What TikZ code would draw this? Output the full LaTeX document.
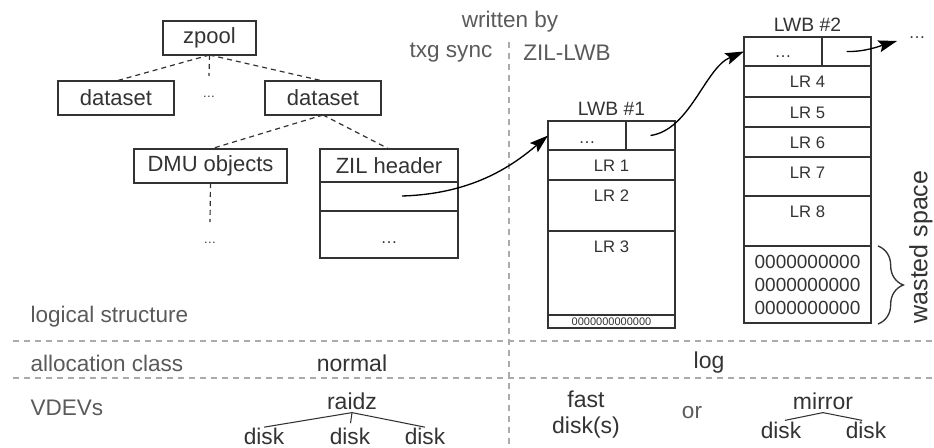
\documentclass[tikz,border=0pt]{standalone}
\usepackage{fontspec}
\setmainfont{Liberation Sans}
\usetikzlibrary{positioning,arrows.meta,decorations.pathreplacing}

\definecolor{ink}{HTML}{333333}
\definecolor{notegray}{HTML}{5A5A5A}
\definecolor{sepgray}{HTML}{ABABAB}

\tikzset{every picture/.style={line width=0.75pt}}
\tikzset{
  box/.style={draw=ink, line width=1.1pt, text=ink, inner sep=0pt, outer sep=0pt, minimum height=25.5pt, font=\fontsize{16.5}{19}\selectfont},
  cell/.style={draw=ink, line width=1.1pt, text=ink, inner sep=0pt, outer sep=0pt, minimum width=95.25pt},
  lrtxt/.style={text=ink, inner sep=0pt, font=\fontsize{12.5}{14}\selectfont},
  lwbname/.style={text=ink, inner sep=0pt, font=\fontsize{14.5}{16}\selectfont},
  ell/.style={text=ink, inner sep=0pt},
  notetxt/.style={text=notegray, inner sep=0pt, font=\fontsize{16.9}{20}\selectfont},
  vdev/.style={text=ink, inner sep=2pt, font=\fontsize{17.25}{19.5}\selectfont},
  disk/.style={text=ink, inner sep=0pt, font=\fontsize{17}{19}\selectfont},
  branch/.style={draw=ink, line width=0.9pt, dash pattern=on 3.75pt off 3pt},
  divider/.style={draw=sepgray, line width=1.1pt, dash pattern=on 4.5pt off 3.75pt},
  link/.style={draw=black, line width=1pt, -{Stealth[length=14pt,width=9pt,inset=2.5pt]}},
}

\begin{document}
\begin{tikzpicture}[x=0.75pt,y=0.75pt,yscale=-1]
	\useasboundingbox (0,0) rectangle (934,448);

	% Dividers
	\coordinate (vtop) at (509,42);
	\coordinate (vbot) at (509,448);
	\coordinate (h1l) at (13,341);
	\coordinate (h1r) at (934,341);
	\coordinate (h2l) at (13,378);
	\coordinate (h2r) at (934,378);
	\draw[divider] (vtop) -- (vbot);
	\draw[divider] (h1l) -- (h1r);
	\draw[divider] (h2l) -- (h2r);

	% Headings
	\node[notetxt] (wby) at (510,22) {written by};
	\node[notetxt] (txg) at (451,53) {txg sync};
	\node[notetxt] (zlwb) at (567,53) {ZIL-LWB};

	% Object tree
	\node[box, minimum width=69.75pt] (zpool) at (209.5,38) {zpool};
	\node[box, minimum width=87pt] (dsa) at (116,98) {dataset};
	\node[ell, font=\fontsize{9.5}{10}\selectfont] (dsdots) at (209,97) {…};
	\node[box, minimum width=87pt] (dsb) at (323,98) {dataset};
	\node[box, minimum width=114.75pt] (dmu) at (210.5,166) {DMU objects};
	\node[ell, font=\fontsize{9.5}{10}\selectfont] (dmudots) at (210,243) {…};
	\node[box, minimum width=103.5pt, minimum height=24.75pt] (zilhdr) at (389,165.5) {ZIL header};
	\node[box, minimum width=103.5pt, minimum height=21.75pt, below=0pt of zilhdr] (zilptr) {};
	\node[box, minimum width=103.5pt, minimum height=35.25pt, below=0pt of zilptr] (zilrest) {};
	\node[ell, font=\fontsize{12.75}{14}\selectfont] (zildots) at ([yshift=6pt]zilrest.center) {…};

	\coordinate (zpdown) at (209,76);
	\coordinate (dmudown) at (210,222);
	\draw[branch] (zpool.south) -- (dsa.north);
	\draw[branch] (zpool.south) -- (zpdown);
	\draw[branch] (zpool.south) -- (dsb.north);
	\draw[branch] (dsb.south) -- (dmu.north);
	\draw[branch] (dsb.south) -- (zilhdr.north);
	\draw[branch] (dmu.south) -- (dmudown);

	% LWB #1
	\node[lwbname] (name1) at (611.5,109) {LWB \#1};
	\node[cell, minimum width=58.5pt, minimum height=21.75pt, anchor=north west] (hl1) at (548,121) {};
	\node[cell, minimum width=36.75pt, minimum height=21.75pt, right=0pt of hl1] (hr1) {};
	\node[ell, font=\fontsize{12.75}{14}\selectfont] (hd1) at ([yshift=5pt]hl1.center) {…};
	\node[cell, minimum height=22.5pt, anchor=north west] (lr1) at (hl1.south west) {};
	\node[cell, minimum height=38.25pt, below=0pt of lr1] (lr2) {};
	\node[cell, minimum height=63pt, below=0pt of lr2] (lr3) {};
	\node[cell, minimum height=9.75pt, below=0pt of lr3, font=\fontsize{8.25}{9}\selectfont] (zero1) {0000000000000};
	\node[lrtxt] (t1) at ([yshift=12pt]lr1.north) {LR 1};
	\node[lrtxt] (t2) at ([yshift=12pt]lr2.north) {LR 2};
	\node[lrtxt] (t3) at ([yshift=12pt]lr3.north) {LR 3};

	% LWB #2
	\node[lwbname] (name2) at (807.5,25) {LWB \#2};
	\node[cell, minimum width=58.5pt, minimum height=21.75pt, anchor=north west] (hl2) at (744,37) {};
	\node[cell, minimum width=36.75pt, minimum height=21.75pt, right=0pt of hl2] (hr2) {};
	\node[ell, font=\fontsize{12.75}{14}\selectfont] (hd2) at ([yshift=4pt]hl2.center) {…};
	\node[cell, minimum height=23.25pt, anchor=north west] (lr4) at (hl2.south west) {};
	\node[cell, minimum height=22.5pt, below=0pt of lr4] (lr5) {};
	\node[cell, minimum height=22.5pt, below=0pt of lr5] (lr6) {};
	\node[cell, minimum height=29.25pt, below=0pt of lr6] (lr7) {};
	\node[cell, minimum height=37.5pt, below=0pt of lr7] (lr8) {};
	\node[cell, minimum height=57.75pt, below=0pt of lr8, align=center, font=\fontsize{14.25}{17.25}\selectfont] (zero2) {0000000000\\0000000000\\0000000000};
	\node[lrtxt] (t4) at ([yshift=12pt]lr4.north) {LR 4};
	\node[lrtxt] (t5) at ([yshift=12pt]lr5.north) {LR 5};
	\node[lrtxt] (t6) at ([yshift=12pt]lr6.north) {LR 6};
	\node[lrtxt] (t7) at ([yshift=12pt]lr7.north) {LR 7};
	\node[lrtxt] (t8) at ([yshift=12pt]lr8.north) {LR 8};
	\node[ell, font=\fontsize{12.75}{14}\selectfont] (more) at (917,38) {…};

	% Wasted space
	\coordinate (bt) at (878,246);
	\coordinate (bb) at (878,324);
	\draw[draw=ink, line width=1pt, decorate, decoration={brace, amplitude=19pt}] (bt) -- (bb);
	\node[text=ink, inner sep=0pt, rotate=90, font=\fontsize{18.75}{20}\selectfont] (waste) at (921,247) {wasted space};

	% Links
	\coordinate (zs) at (402,196);
	\coordinate (nxt) at (897,41);
	\draw[link] (zs) .. controls (470,194) and (510,168) .. (hl1.west);
	\draw[link] (hr1.center) .. controls (690,130) and (705,68) .. (hl2.west);
	\draw[link] (hr2.center) .. controls (865,52) and (880,46) .. (nxt);

	% Rows
	\node[notetxt, anchor=west] (logi) at (30,317) {logical structure};
	\node[notetxt, anchor=west] (alloc) at (30,363) {allocation class};
	\node[notetxt, anchor=west] (vdevs) at (30,408) {VDEVs};
	\node[vdev] (normal) at (352,363) {normal};
	\node[vdev] (log) at (709,363) {log};

	% VDEVs
	\node[vdev] (raidz) at (352,401) {raidz};
	\node[disk] (dk1) at (264,436) {disk};
	\node[disk] (dk2) at (350,436) {disk};
	\node[disk] (dk3) at (425,436) {disk};
	\draw[draw=ink, line width=0.8pt] (raidz.south) -- (dk1.north);
	\draw[draw=ink, line width=0.8pt, shorten >=3pt] (raidz.south) -- (dk2.north);
	\draw[draw=ink, line width=0.8pt] (raidz.south) -- (dk3.north);
	\node[vdev, align=center] (fast) at (586,415) {fast\\disk(s)};
	\node[notetxt] (orword) at (692,413) {or};
	\node[vdev] (mirror) at (823,401) {mirror};
	\node[disk] (dk4) at (781,430) {disk};
	\node[disk] (dk5) at (866,430) {disk};
	\draw[draw=ink, line width=0.8pt, shorten >=3pt] (mirror.south) -- (dk4.north);
	\draw[draw=ink, line width=0.8pt, shorten >=3pt] (mirror.south) -- (dk5.north);

\end{tikzpicture}
\end{document}
